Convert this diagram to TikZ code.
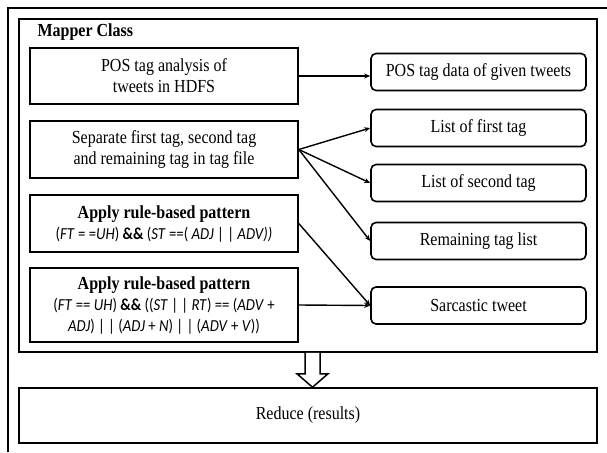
\documentclass[tikz,border=0pt]{standalone}
\usepackage{fontspec}
\setmainfont[FakeStretch=0.87]{Liberation Serif}
\newfontfamily\calfont[FakeStretch=0.88]{Carlito}
\usetikzlibrary{arrows.meta,calc}
\newcommand{\cf}{\calfont\fontsize{16.8}{21}\selectfont}
\begin{document}
\begin{tikzpicture}[x=1pt,y=-1pt,
  every node/.style={font=\fontsize{18.4}{21}\selectfont},
  lbox/.style={draw,line width=1.6pt,minimum width=268pt,inner sep=0pt,align=center},
  rbox/.style={draw,line width=1.6pt,rounded corners=5pt,minimum width=215pt,minimum height=37pt,inner sep=0pt,align=center},
  conn/.style={line width=1.4pt,-{Stealth[length=6pt,width=5pt]}},
  frm/.style={line width=1.6pt}]
\useasboundingbox (0,0) rectangle (607,452);
% outer partial frame
\draw[line width=2pt] (8,452) -- (8,8) -- (607,8);
% mapper box and reduce box
\node[frm,draw,minimum width=578pt,minimum height=333pt,inner sep=0pt] (mapper) at (308,185.5) {};
\node[anchor=north west,font=\fontsize{18.4}{20}\bfseries\selectfont] (title) at (34,20) {Mapper Class};
\node[frm,draw,minimum width=578pt,minimum height=55pt,inner sep=0pt] (reduce) at (308,415.5) {Reduce (results)};
% left boxes
\node[lbox,minimum height=56pt] (b1) at (164,76) {POS tag analysis of\\tweets in HDFS};
\node[lbox,minimum height=57pt] (b2) at (164,149.5) {Separate first tag, second tag\\and remaining tag in tag file};
\node[lbox,minimum height=57pt] (b3) at (164,223.5) {\textbf{Apply rule-based pattern}\\{\cf(\textit{FT} = =\textit{UH}) \textbf{\&\&} (\textit{ST} ==( \textit{ADJ} | | \textit{ADV))}}};
\node[lbox,minimum height=74pt] (b4) at (164,305) {\textbf{Apply rule-based pattern}\\{\cf(\textit{FT} == \textit{UH}) \textbf{\&\&} ((\textit{ST} | | \textit{RT}) == (\textit{ADV} +}\\{\cf\textit{ADJ}) | | (\textit{ADJ} + \textit{N}) | | (\textit{ADV} + \textit{V}))}};
% right boxes
\node[rbox] (r1) at (478.5,72) {POS tag data of given tweets};
\node[rbox] (r2) at (478.5,128) {List of first tag};
\node[rbox] (r3) at (478.5,183) {List of second tag};
\node[rbox] (r4) at (478.5,241) {Remaining tag list};
\node[rbox] (r5) at (478.5,305.5) {Sarcastic tweet};
% connectors
\draw[conn] (b1.east) -- (b1.east -| r1.west);
\draw[conn] (b2.east) -- (r2.west);
\draw[conn] (b2.east) -- (r3.west);
\draw[conn] (b2.east) -- (r4.west);
\draw[conn] (b3.east) -- (r5.west);
\draw[conn] (b4.east) -- (r5.west);
% hollow arrow
\draw[line width=1.5pt,line join=miter,fill=white] ($(mapper.south)+(-3,0)$) -- ++(0,21) -- ++(-8,0) -- ($(reduce.north)+(4.5,0)$) -- ($(mapper.south)+(20,21)$) -- ++(-8,0) -- ($(mapper.south)+(12,0)$);
\end{tikzpicture}
\end{document}
